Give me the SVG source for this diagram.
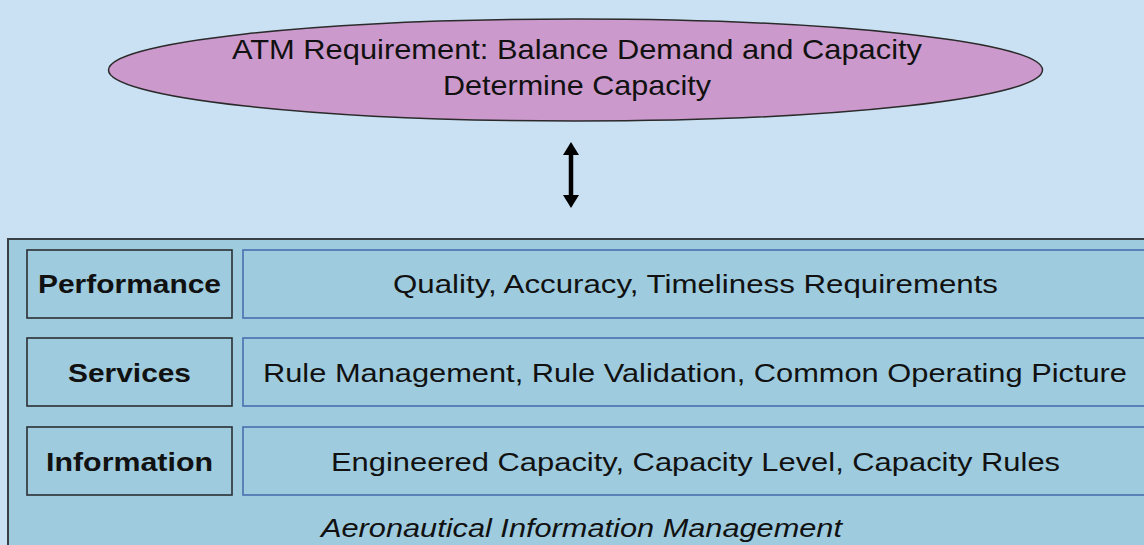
<svg xmlns="http://www.w3.org/2000/svg" width="1144" height="545" viewBox="0 0 1144 545">
  <style>
    .bg { fill: #c9e1f3; }
    .goal { fill: #cc99cc; stroke: #2a2a2a; stroke-width: 1.5; }
    .frame { fill: #9ecbde; stroke: #3a3f44; stroke-width: 2; }
    .label { fill: #9ecbde; stroke: #2b2f33; stroke-width: 1.6; }
    .detail { fill: #9ecbde; stroke: #4a6fae; stroke-width: 1.6; }
    text { font-family: "Liberation Sans", Arial, sans-serif; fill: #111; }
    .t-goal { font-size: 28px; text-anchor: middle; }
    .t-label { font-size: 26px; font-weight: bold; text-anchor: middle; }
    .t-detail { font-size: 26px; text-anchor: middle; }
    .t-caption { font-size: 26px; font-style: italic; text-anchor: middle; }
    .link { stroke: #000; stroke-width: 4.5; fill: none; }
    .tip { fill: #000; }
  </style>

  <rect class="bg" x="0" y="0" width="1144" height="545"/>

  <g id="atm-requirement">
    <ellipse class="goal" cx="575.5" cy="70" rx="467" ry="51"/>
    <text class="t-goal" x="577" y="59" textLength="690" lengthAdjust="spacingAndGlyphs">ATM Requirement: Balance Demand and Capacity</text>
    <text class="t-goal" x="577" y="95" textLength="268" lengthAdjust="spacingAndGlyphs">Determine Capacity</text>
  </g>

  <g id="connectors">
    <line class="link" x1="571" y1="152" x2="571" y2="198"/>
    <polygon class="tip" points="571,142 579,155 563,155"/>
    <polygon class="tip" points="571,208 579,195 563,195"/>
  </g>

  <g id="aim-frame">
    <rect class="frame" x="8" y="239" width="1150" height="320"/>
    <text class="t-caption" x="581.5" y="537" textLength="521" lengthAdjust="spacingAndGlyphs">Aeronautical Information Management</text>
  </g>

  <g id="performance">
    <rect class="label" x="27" y="250" width="205" height="68"/>
    <text class="t-label" x="129.5" y="293" textLength="183" lengthAdjust="spacingAndGlyphs">Performance</text>
  </g>
  <g id="performance-detail">
    <rect class="detail" x="243" y="250" width="910" height="68"/>
    <text class="t-detail" x="695.5" y="293" textLength="605" lengthAdjust="spacingAndGlyphs">Quality, Accuracy, Timeliness Requirements</text>
  </g>

  <g id="services">
    <rect class="label" x="27" y="338" width="205" height="68"/>
    <text class="t-label" x="129.5" y="382" textLength="123" lengthAdjust="spacingAndGlyphs">Services</text>
  </g>
  <g id="services-detail">
    <rect class="detail" x="243" y="338" width="910" height="68"/>
    <text class="t-detail" x="695" y="382" textLength="864" lengthAdjust="spacingAndGlyphs">Rule Management, Rule Validation, Common Operating Picture</text>
  </g>

  <g id="information">
    <rect class="label" x="27" y="427" width="205" height="68"/>
    <text class="t-label" x="129.5" y="471" textLength="167" lengthAdjust="spacingAndGlyphs">Information</text>
  </g>
  <g id="information-detail">
    <rect class="detail" x="243" y="427" width="910" height="68"/>
    <text class="t-detail" x="695.5" y="471" textLength="729" lengthAdjust="spacingAndGlyphs">Engineered Capacity, Capacity Level, Capacity Rules</text>
  </g>
</svg>
